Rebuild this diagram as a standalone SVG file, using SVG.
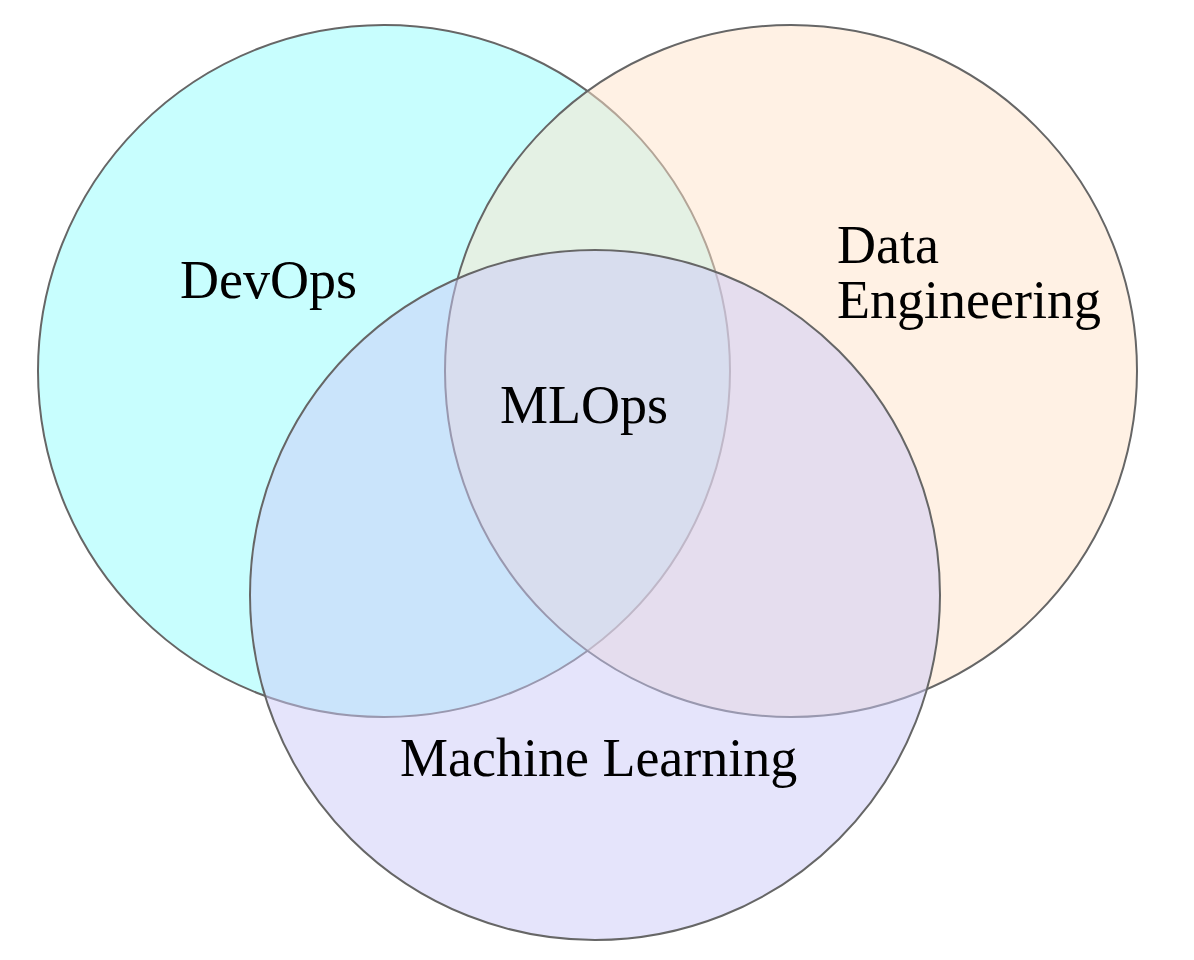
<svg xmlns="http://www.w3.org/2000/svg" width="1194" height="960" viewBox="0 0 1194 960">
<style>
.c{stroke:#666;stroke-width:2}
.t{font-family:"Liberation Serif","Times New Roman",serif;font-size:54px;fill:#000}
</style>
<rect width="1194" height="960" fill="#fff"/>
<g id="devops">
<circle class="c" cx="384" cy="371" r="346" fill="#c8fefe"/>
</g>
<g id="data-engineering">
<circle class="c" cx="791" cy="371" r="346" fill="rgb(255,227,201)" fill-opacity="0.5"/>
</g>
<g id="machine-learning">
<circle class="c" cx="595" cy="595" r="345" fill="rgb(204,202,248)" fill-opacity="0.5"/>
</g>
<g id="labels">
<text class="t" x="180" y="298">DevOps</text>
<text class="t" x="837" y="263">Data</text>
<text class="t" x="837" y="318">Engineering</text>
<text class="t" x="500" y="423">MLOps</text>
<text class="t" x="400" y="776">Machine Learning</text>
</g>
</svg>
